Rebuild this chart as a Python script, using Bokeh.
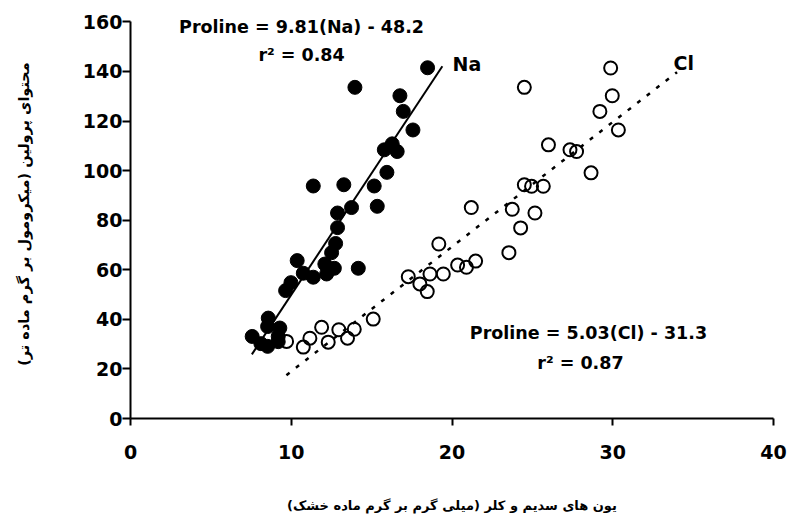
from bokeh.plotting import figure
from bokeh.models import Range1d, FixedTicker, Label
from bokeh.embed import file_html
from bokeh.resources import INLINE

# ---- data ----
na_x = [18.48, 13.96, 16.76, 16.97, 17.57, 16.28, 15.79, 16.59, 15.95, 11.37,
        13.27, 15.16, 13.75, 15.35, 12.88, 12.88, 12.76, 12.51, 10.37, 12.09,
        12.68, 14.17, 10.75, 11.37, 12.20, 9.98, 9.65, 8.57, 8.53, 9.29,
        7.57, 9.19, 8.11, 8.53, 9.19]
na_y = [141.5, 133.6, 130.2, 123.9, 116.4, 110.8, 108.4, 107.7, 99.3, 93.8,
        94.3, 93.8, 85.1, 85.6, 82.9, 77.0, 70.6, 66.9, 63.7, 62.3,
        60.6, 60.6, 58.6, 57.0, 58.3, 54.8, 51.6, 40.5, 37.1, 36.5,
        33.1, 33.1, 30.2, 29.1, 31.0]

cl_x = [9.71, 10.75, 11.16, 11.89, 12.30, 12.96, 13.50, 13.92, 15.10, 17.28,
        18.00, 18.46, 18.63, 19.46, 19.18, 20.35, 20.90, 21.47, 21.20, 23.54,
        23.75, 24.27, 25.16, 24.50, 24.95, 25.68, 28.65, 27.34, 27.75, 24.50,
        29.87, 29.97, 29.20, 30.35, 26.00]
cl_y = [31.1, 28.8, 32.4, 36.8, 30.8, 35.8, 32.4, 36.0, 40.1, 57.2,
        54.3, 51.2, 58.3, 58.3, 70.4, 61.9, 61.0, 63.5, 85.1, 66.9,
        84.4, 76.9, 82.9, 94.3, 93.7, 93.7, 99.1, 108.4, 107.7, 133.6,
        141.4, 130.2, 123.9, 116.4, 110.4]

# regression equations shown on the chart
na_slope, na_intercept, na_r2 = 9.81, -48.2, 0.84
cl_slope, cl_intercept, cl_r2 = 5.03, -31.3, 0.87
na_fit_range = [7.55, 19.4]
cl_fit_range = [9.7, 34.0]

x_ticks = [0, 10, 20, 30, 40]
y_ticks = [0, 20, 40, 60, 80, 100, 120, 140, 160]

x_title = "یون های سدیم و کلر (میلی گرم بر گرم ماده خشک)"
y_title = "محتوای پرولین (میکرومول بر گرم ماده تر)"

FONT = "DejaVu Sans"

p = figure(width=787, height=519, x_range=Range1d(0, 40), y_range=Range1d(0, 165.0),
           output_backend="svg", toolbar_location=None,
           min_border_left=130, min_border_right=14, min_border_top=9,
           min_border_bottom=101)
p.outline_line_color = None
p.xgrid.visible = False
p.ygrid.visible = False
p.background_fill_color = "white"
p.border_fill_color = "white"

for ax in (p.xaxis[0], p.yaxis[0]):
    ax.axis_line_width = 2
    ax.axis_line_color = "black"
    ax.major_tick_line_width = 2
    ax.major_tick_line_color = "black"
    ax.major_tick_in = 0
    ax.minor_tick_line_color = None
    ax.major_label_text_font = FONT
    ax.major_label_text_font_style = "bold"
    ax.major_label_text_font_size = "19px"
    ax.major_label_text_color = "black"
    ax.axis_label_text_font = FONT
    ax.axis_label_text_font_style = "bold"
    ax.axis_label_text_color = "black"

p.yaxis[0].bounds = (0, 160)
p.xaxis[0].ticker = FixedTicker(ticks=x_ticks)
p.yaxis[0].ticker = FixedTicker(ticks=y_ticks)
p.xaxis[0].major_tick_out = 7
p.yaxis[0].major_tick_out = 8
p.xaxis[0].major_label_standoff = 19
p.yaxis[0].major_label_standoff = 0
p.xaxis[0].axis_label = x_title + "\u200f"
p.yaxis[0].axis_label = y_title + "\u200f"
p.xaxis[0].axis_label_text_font_size = "13px"
p.yaxis[0].axis_label_text_font_size = "14.5px"
p.xaxis[0].axis_label_standoff = 36
p.yaxis[0].axis_label_standoff = 48

# fitted lines
na_fit_y = [na_slope * v + na_intercept for v in na_fit_range]
cl_fit_y = [cl_slope * v + cl_intercept for v in cl_fit_range]
p.line(na_fit_range, na_fit_y, line_color="black", line_width=2)
p.line(cl_fit_range, cl_fit_y, line_color="black", line_width=2.5, line_dash="4 8")

# points
p.scatter(x=na_x, y=na_y, size=14, marker="circle",
          fill_color="black", line_color="black", line_width=1)
p.scatter(x=cl_x, y=cl_y, size=13, marker="circle",
          fill_color=None, line_color="black", line_width=2)

def lab(x, y, text, align="center", size="17.5px"):
    p.add_layout(Label(x=x, y=y, text=text, text_font=FONT, text_font_style="bold",
                       text_font_size=size, text_align=align,
                       text_baseline="alphabetic", text_color="black"))

lab(10.64, 158.0, f"Proline = {na_slope}(Na) - {abs(na_intercept)}")
lab(10.64, 146.5, f"r\u00b2 = {na_r2}")
lab(20.03, 143.0, "Na", align="left", size="19px")
lab(33.78, 143.3, "Cl", align="left", size="19px")
lab(28.49, 34.4, f"Proline = {cl_slope}(Cl) - {abs(cl_intercept)}")
lab(27.99, 22.3, f"r\u00b2 = {cl_r2}")

open("out.html", "w").write(file_html(p, INLINE))
